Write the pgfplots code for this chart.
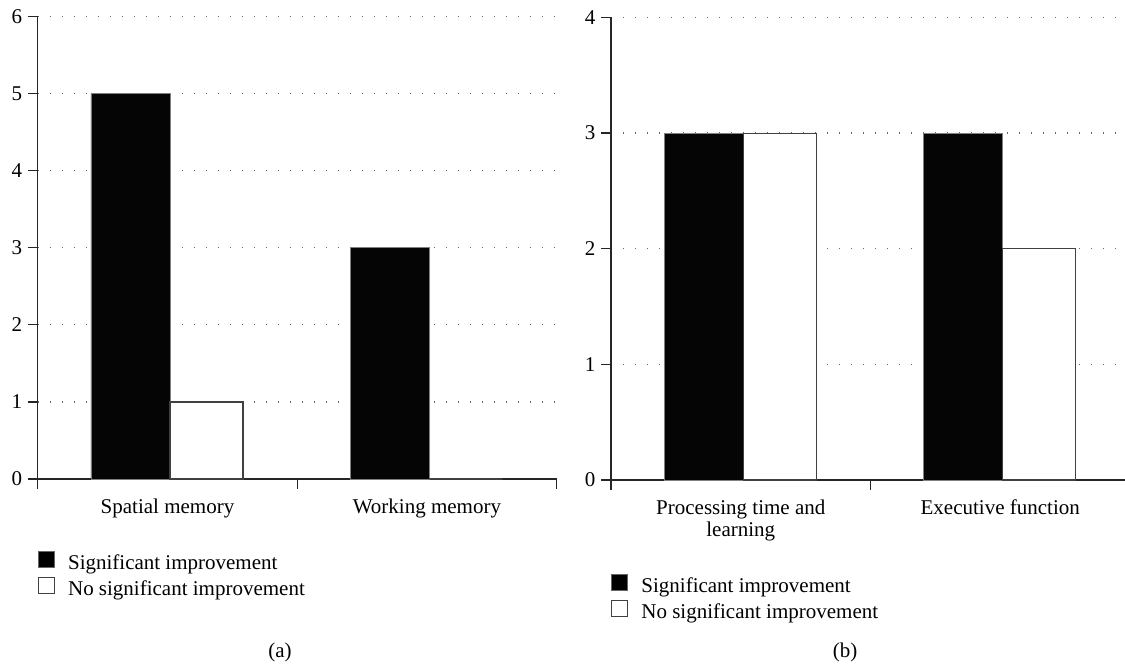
\documentclass[border=0pt]{standalone}
\usepackage{fontspec}
\setmainfont{Liberation Serif}
\usepackage{pgfplots}
\pgfplotsset{compat=1.18}
\begin{document}
\begin{tikzpicture}[x=1pt,y=1pt]
\useasboundingbox (0,0) rectangle (1125,665);
\pgfplotsset{
  panel/.style={
    scale only axis, width=519pt, height=462.5pt,
    xmin=0.5, xmax=2.5, ymin=0,
    axis x line=bottom, axis y line=left,
    axis line style={-, line width=1.3pt, draw=black!85},
    xtick={0.5,1.5,2.5}, xticklabels={,,},
    extra x tick style={major tick length=0pt, grid=none},
    tick align=outside, major tick length=10pt,
    tick style={line width=1.3pt, draw=black!85},
    ymajorgrids,
    grid style={dash pattern=on 1.3pt off 10.7pt, line width=1.3pt, draw=black!60},
    ticklabel style={font=\fontsize{21}{22.5}\selectfont},
    yticklabel style={xshift=-2pt},
    /pgf/number format/assume math mode=true,
    ybar,
    xticklabel style={yshift=-16pt, align=center},
    legend style={draw=none, fill=none, inner sep=0pt, at={(0,0)}, anchor=north west,
      font=\fontsize{21}{23}\selectfont, row sep=2.5pt,
      nodes={inner sep=0pt, text height=15pt, text depth=5pt},
      /tikz/every odd column/.append style={column sep=13pt}},
    legend cell align=left,
  },
  sig/.style={fill=black!98, draw=black!50, line width=0.8pt, bar width=79pt, bar shift=-37pt,
     legend image code/.code={\draw[fill=black, draw=black!60, line width=0.8pt] (0pt,-3pt) rectangle (16pt,13pt);}},
  nosig/.style={fill=white, draw=black!75, line width=1.2pt, bar width=73pt, bar shift=39pt,
     legend image code/.code={\draw[fill=white, draw=black!75, line width=1.2pt] (0pt,-3pt) rectangle (16pt,13pt);}},
}
% Panel (a)
\begin{axis}[panel, at={(37.7pt,186pt)}, anchor=south west,
  ymax=6, ytick={0,1,2,3,4,5,6},
  extra x ticks={1,2}, extra x tick labels={Spatial memory, Working memory},
  legend style={yshift=-72pt}]
\addplot[sig] coordinates {(1,5) (2,3)};
\addlegendentry{Significant improvement}
\addplot[nosig] coordinates {(1,1) (2,0)};
\addlegendentry{No significant improvement}
\end{axis}
% Panel (b)
\begin{axis}[panel, at={(611pt,185pt)}, anchor=south west,
  ymax=4, ytick={0,1,2,3,4},
  extra x ticks={1,2}, extra x tick labels={{Processing time and\\learning}, Executive function},
  legend style={yshift=-94pt}]
\addplot[sig] coordinates {(1,3) (2,3)};
\addlegendentry{Significant improvement}
\addplot[nosig] coordinates {(1,3) (2,2)};
\addlegendentry{No significant improvement}
\end{axis}
\node[font=\fontsize{21}{23}\selectfont] at (280,13) {(a)};
\node[font=\fontsize{21}{23}\selectfont] at (845,13) {(b)};
\end{tikzpicture}
\end{document}
